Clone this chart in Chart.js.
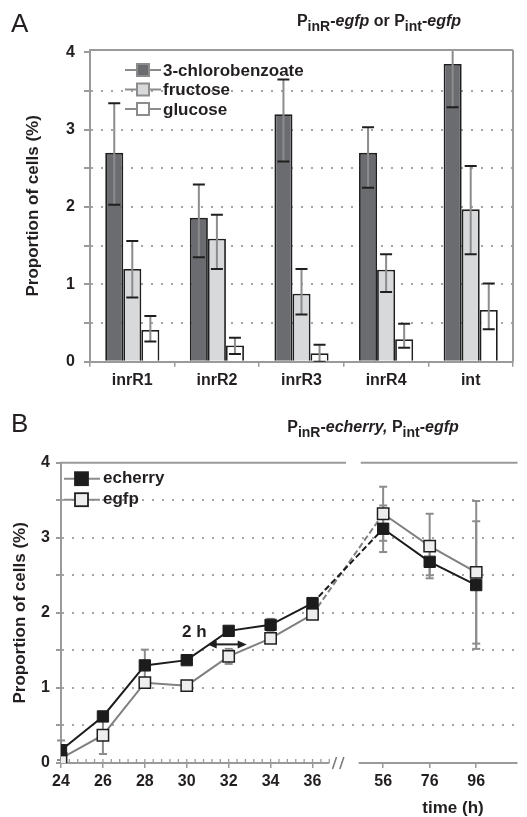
<!DOCTYPE html>
<html>
<head>
<meta charset="utf-8">
<script src="https://cdn.jsdelivr.net/npm/chart.js@4.4.1/dist/chart.umd.min.js"></script>
<style>
  body { margin: 0; background: #fff; }
  #wrap { position: relative; width: 527px; height: 817px; overflow: hidden; font-family: "Liberation Sans", Arial, sans-serif; color: #231f20; }
  canvas { position: absolute; left: 0; }
  .letter { position: absolute; left: 11px; font-size: 26px; line-height: 26px; }
  .title { position: absolute; font-size: 16px; font-weight: bold; line-height: 16px; white-space: nowrap; transform: translateX(-50%); }
  .title .s { font-size: 14px; position: relative; top: 5px; }
  .title i { font-style: italic; }
  #timeLbl { position: absolute; left: 453px; top: 799px; font-size: 17px; font-weight: bold; line-height: 17px; transform: translateX(-50%); }
</style>
</head>
<body>
<div id="wrap">
  <canvas id="chartA" width="527" height="400" style="top:0"></canvas>
  <canvas id="chartB" width="527" height="417" style="top:400px"></canvas>
  <div class="letter" style="top:10px">A</div>
  <div class="title" style="left:379px; top:13px">P<span class="s">inR</span>-<i>egfp</i> or P<span class="s">int</span>-<i>egfp</i></div>
  <div class="letter" style="top:410px">B</div>
  <div class="title" style="left:373px; top:419px">P<span class="s">inR</span>-<i>echerry,</i> P<span class="s">int</span>-<i>egfp</i></div>
  <div id="timeLbl">time (h)</div>
</div>
<script>
// panel A data
const categories = ['inrR1', 'inrR2', 'inrR3', 'inrR4', 'int'];
const chloro   = [2.70, 1.86, 3.20, 2.70, 3.85];
const chloroHi = [3.34, 2.29, 3.65, 3.03, 4.41];
const chloroLo = [2.03, 1.35, 2.59, 2.25, 3.29];
const fructose   = [1.20, 1.59, 0.88, 1.19, 1.97];
const fructoseHi = [1.56, 1.90, 1.20, 1.39, 2.53];
const fructoseLo = [0.83, 1.20, 0.61, 0.90, 1.39];
const glucose   = [0.41, 0.21, 0.11, 0.29, 0.67];
const glucoseHi = [0.59, 0.31, 0.22, 0.49, 1.01];
const glucoseLo = [0.26, 0.10, 0.00, 0.18, 0.42];

// panel B data
const hours = [24, 26, 28, 30, 32, 34, 36, 56, 76, 96];
const echerry    = [0.17, 0.62, 1.30, 1.37, 1.76, 1.84, 2.13, 3.12, 2.68, 2.37];
const echerryErr = [0.13, 0.00, 0.21, 0.00, 0.00, 0.08, 0.00, 0.31, 0.18, 0.85];
const egfp       = [0.06, 0.37, 1.07, 1.03, 1.42, 1.66, 1.98, 3.32, 2.89, 2.54];
const egfpErr    = [0.00, 0.25, 0.05, 0.05, 0.10, 0.00, 0.00, 0.36, 0.43, 0.95];
const yTicks = [0, 0.5, 1, 1.5, 2, 2.5, 3, 3.5, 4];

const FONT = '"Liberation Sans", Arial, sans-serif';
const AXIS = '#9a9a9a';
const INK = '#231f20';
Chart.defaults.font.family = FONT;
Chart.defaults.color = INK;

// broken time axis: hours after the break are squeezed
const BREAK_H = 36, AFTER_H = 56, AFTER_POS = 39.37, AFTER_RATE = 0.111;
function toAxis(h) {
  return h <= BREAK_H ? h : AFTER_POS + (h - AFTER_H) * AFTER_RATE;
}

function yScale(max, width, tickLen, pad, titlePad) {
  return {
    min: 0, max: max,
    afterBuildTicks: s => { s.ticks = yTicks.map(v => ({ value: v })); },
    afterFit: s => { s.width = width; },
    ticks: {
      callback: v => (v % 1 === 0 ? v : ''),
      font: { size: 16, weight: 'bold' }, color: INK, padding: pad
    },
    grid: {
      color: c => (c.tick && (c.tick.value === 0 || c.tick.value >= 4)) ? 'rgba(0,0,0,0)' : '#a5a5a5',
      lineWidth: 2, tickColor: AXIS, tickLength: tickLen, tickWidth: 2
    },
    border: { color: AXIS, width: 2, dash: [2, 8] },
    title: {
      display: true, text: 'Proportion of cells (%)',
      font: { size: 17, weight: 'bold' }, color: INK, padding: { top: titlePad, bottom: 0 }
    }
  };
}

function line(ctx, x1, y1, x2, y2) {
  ctx.beginPath(); ctx.moveTo(x1, y1); ctx.lineTo(x2, y2); ctx.stroke();
}

// ---------- panel A ----------
const errBarsA = {
  id: 'errBarsA',
  afterDatasetsDraw(chart) {
    const ctx = chart.ctx, y = chart.scales.y, a = chart.chartArea;
    ctx.save();
    ctx.beginPath();
    ctx.rect(a.left, a.top, a.right - a.left, a.bottom - a.top);
    ctx.clip();
    ctx.lineWidth = 2;
    chart.data.datasets.forEach((ds, i) => {
      chart.getDatasetMeta(i).data.forEach((bar, j) => {
        const yh = y.getPixelForValue(ds.hi[j]);
        const yl = y.getPixelForValue(ds.lo[j]);
        ctx.strokeStyle = '#8c8c8c';
        line(ctx, bar.x, yh, bar.x, yl);
        ctx.strokeStyle = '#1f1f1f';
        line(ctx, bar.x - 6, yh, bar.x + 6, yh);
        line(ctx, bar.x - 6, yl, bar.x + 6, yl);
      });
    });
    ctx.restore();
  },
  afterDraw(chart) {
    const ctx = chart.ctx, a = chart.chartArea;
    ctx.save();
    // box top + right
    ctx.strokeStyle = AXIS; ctx.lineWidth = 2;
    line(ctx, a.left - 1, a.top, a.right, a.top);
    line(ctx, a.right, a.top, a.right, a.bottom);
    // legend
    ctx.font = 'bold 17px ' + FONT;
    ctx.textBaseline = 'middle';
    chart.data.datasets.forEach((ds, i) => {
      const yy = a.top + 20 + i * 19.5;
      const x0 = a.left + 35;
      ctx.strokeStyle = '#8c8c8c'; ctx.lineWidth = 2;
      line(ctx, x0, yy, x0 + 36, yy);
      ctx.fillStyle = ds.backgroundColor;
      ctx.fillRect(x0 + 12, yy - 6, 12, 12);
      ctx.strokeRect(x0 + 12, yy - 6, 12, 12);
      ctx.fillStyle = INK;
      ctx.fillText(ds.label, x0 + 38, yy + 1);
    });
    ctx.restore();
  }
};

new Chart(document.getElementById('chartA'), {
  type: 'bar',
  data: {
    labels: categories,
    datasets: [
      { label: '3-chlorobenzoate', data: chloro, hi: chloroHi, lo: chloroLo, backgroundColor: '#6b6c70' },
      { label: 'fructose', data: fructose, hi: fructoseHi, lo: fructoseLo, backgroundColor: '#d8d9db' },
      { label: 'glucose', data: glucose, hi: glucoseHi, lo: glucoseLo, backgroundColor: '#ffffff' }
    ]
  },
  options: {
    responsive: false, devicePixelRatio: 1, animation: false,
    layout: { padding: { top: 50, right: 14, left: 0, bottom: 0 } },
    plugins: { legend: { display: false }, tooltip: { enabled: false } },
    datasets: { bar: { borderColor: '#1f1f1f', borderWidth: 1.8, categoryPercentage: 0.64, barPercentage: 1.0 } },
    scales: {
      x: {
        afterFit: s => { s.height = 38.3; },
        ticks: { font: { size: 16, weight: 'bold' }, color: INK, padding: 4 },
        grid: { drawOnChartArea: false, color: AXIS, tickLength: 5, lineWidth: 1.5 },
        border: { color: AXIS, width: 2 }
      },
      y: yScale(4.03, 90, 6, 9, 23)
    }
  },
  plugins: [errBarsA]
});

// ---------- panel B ----------
const axisB = {
  id: 'axisB',
  beforeDatasetsDraw(chart) {
    const ctx = chart.ctx, a = chart.chartArea, x = chart.scales.x, y = chart.scales.y;
    ctx.save();
    ctx.strokeStyle = AXIS; ctx.lineWidth = 2;
    // broken bottom axis
    line(ctx, a.left - 1, a.bottom, x.getPixelForValue(36.8), a.bottom);
    line(ctx, x.getPixelForValue(38.2), a.bottom, a.right, a.bottom);
    ctx.lineWidth = 1.3;
    for (let h = 24; h <= 36.81; h += 0.4) {
      const px = x.getPixelForValue(h);
      line(ctx, px, a.bottom, px, a.bottom - 4);
    }
    ctx.strokeStyle = '#777'; ctx.lineWidth = 1.5;
    [37.05, 37.4].forEach(h => {
      const px = x.getPixelForValue(h);
      line(ctx, px - 2, a.bottom + 6, px + 2, a.bottom - 6);
    });
    // broken top border
    ctx.strokeStyle = AXIS; ctx.lineWidth = 2;
    line(ctx, a.left - 1, a.top, x.getPixelForValue(37.6), a.top);
    line(ctx, x.getPixelForValue(38.3), a.top, a.right, a.top);
    // error bars
    chart.data.datasets.forEach((ds, i) => {
      chart.getDatasetMeta(i).data.forEach((pt, j) => {
        const e = ds.err[j];
        if (!e) return;
        const v = ds.data[j].y;
        const yh = y.getPixelForValue(v + e), yl = y.getPixelForValue(v - e);
        ctx.strokeStyle = '#8c8c8c'; ctx.lineWidth = 2;
        line(ctx, pt.x, yh, pt.x, yl);
        line(ctx, pt.x - 4, yh, pt.x + 4, yh);
        line(ctx, pt.x - 4, yl, pt.x + 4, yl);
      });
    });
    ctx.restore();
  },
  afterDraw(chart) {
    const ctx = chart.ctx, a = chart.chartArea, x = chart.scales.x, y = chart.scales.y;
    ctx.save();
    // legend
    ctx.font = 'bold 17px ' + FONT;
    ctx.textBaseline = 'middle';
    chart.data.datasets.forEach((ds, i) => {
      const yy = a.top + 16 + i * 21;
      const x0 = a.left + 3;
      ctx.strokeStyle = '#8c8c8c'; ctx.lineWidth = 2;
      line(ctx, x0, yy, x0 + 36, yy);
      ctx.fillStyle = ds.pointBackgroundColor;
      ctx.fillRect(x0 + 11, yy - 6.5, 13, 13);
      ctx.strokeStyle = '#1f1f1f'; ctx.lineWidth = 1.8;
      ctx.strokeRect(x0 + 11, yy - 6.5, 13, 13);
      ctx.fillStyle = INK;
      ctx.fillText(ds.label, x0 + 39, yy);
    });
    // "2 h" arrow
    const x1 = x.getPixelForValue(31.0), x2 = x.getPixelForValue(32.86), ya = y.getPixelForValue(1.58);
    ctx.strokeStyle = '#1f1f1f'; ctx.fillStyle = '#1f1f1f'; ctx.lineWidth = 2;
    line(ctx, x1 + 4, ya, x2 - 4, ya);
    [[x1, 1], [x2, -1]].forEach(([px, d]) => {
      ctx.beginPath();
      ctx.moveTo(px, ya);
      ctx.lineTo(px + 9 * d, ya - 4);
      ctx.lineTo(px + 9 * d, ya + 4);
      ctx.closePath(); ctx.fill();
    });
    ctx.textAlign = 'center';
    ctx.fillStyle = INK;
    ctx.fillText('2 h', x.getPixelForValue(30.36), y.getPixelForValue(1.74));
    ctx.restore();
  }
};

const dashAfterBreak = c => (hours[c.p0DataIndex] === BREAK_H ? [6, 3] : undefined);

new Chart(document.getElementById('chartB'), {
  type: 'line',
  data: {
    datasets: [
      {
        label: 'echerry', err: echerryErr,
        data: hours.map((h, i) => ({ x: toAxis(h), y: echerry[i] })),
        borderColor: '#1c1c1c', borderWidth: 2,
        pointStyle: 'rect', pointRadius: 8, pointBackgroundColor: '#1c1c1c', pointBorderColor: '#1c1c1c',
        pointBorderWidth: 1, segment: { borderDash: dashAfterBreak }
      },
      {
        label: 'egfp', err: egfpErr,
        data: hours.map((h, i) => ({ x: toAxis(h), y: egfp[i] })),
        borderColor: '#808080', borderWidth: 2,
        pointStyle: 'rect', pointRadius: 8, pointBackgroundColor: '#eeeeee', pointBorderColor: '#1f1f1f',
        pointBorderWidth: 1.5, segment: { borderDash: dashAfterBreak }
      }
    ]
  },
  options: {
    responsive: false, devicePixelRatio: 1, animation: false,
    layout: { padding: { top: 62.7, right: 0, left: 0, bottom: 0 } },
    plugins: { legend: { display: false }, tooltip: { enabled: false } },
    scales: {
      x: {
        type: 'linear', min: 24, max: 45.78,
        afterBuildTicks: s => { s.ticks = hours.map(h => ({ value: toAxis(h) })); },
        afterFit: s => { s.height = 54; },
        ticks: {
          callback: (v, i) => hours[i], autoSkip: false, maxRotation: 0,
          font: { size: 16, weight: 'bold' }, color: INK, padding: 4
        },
        grid: { drawOnChartArea: false, color: AXIS, tickLength: 5, lineWidth: 1.5 },
        border: { display: false }
      },
      y: yScale(4, 61, 5, 6, 10)
    }
  },
  plugins: [axisB]
});
</script>
</body>
</html>
